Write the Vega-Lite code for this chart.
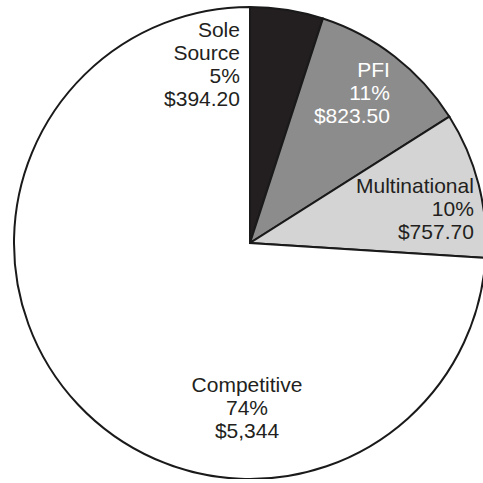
{
  "$schema": "https://vega.github.io/schema/vega-lite/v6.json",
  "width": 472,
  "height": 472,
  "autosize": {"type": "none"},
  "padding": {"left": 14, "top": 7, "right": 0, "bottom": 0},
  "background": "white",
  "view": {"stroke": null},
  "datasets": {
    "labels": [
      {"label": "Sole\nSource\n5%\n$394.20", "angle": 357.2, "r": 0.872, "align": "right", "tc": "dark"},
      {"label": "PFI\n11%\n$823.50", "angle": 40.1, "r": 0.92, "align": "right", "tc": "light"},
      {"label": "Multinational\n10%\n$757.70", "angle": 77.4, "r": 0.972, "align": "right", "tc": "dark"},
      {"label": "Competitive\n74%\n$5,344", "angle": 181.15, "r": 0.631, "align": "center", "tc": "dark"}
    ]
  },
  "layer": [
    {
      "data": {
        "values": [
          {"category": "Sole Source", "pct": 5, "amount": 394.2, "order": 1},
          {"category": "PFI", "pct": 11, "amount": 823.5, "order": 2},
          {"category": "Multinational", "pct": 10, "amount": 757.7, "order": 3},
          {"category": "Competitive", "pct": 74, "amount": 5344, "order": 4}
        ]
      },
      "mark": {"type": "arc", "stroke": "#1a1a1a", "strokeWidth": 2, "strokeJoin": "miter"},
      "encoding": {
        "theta": {"field": "pct", "type": "quantitative", "stack": true},
        "order": {"field": "order", "type": "quantitative"},
        "color": {
          "field": "category",
          "type": "nominal",
          "scale": {
            "domain": ["Sole Source", "PFI", "Multinational", "Competitive"],
            "range": ["#231f20", "#8c8c8c", "#d4d4d4", "#ffffff"]
          },
          "legend": null
        }
      }
    },
    {
      "data": {"name": "labels"},
      "transform": [{"filter": "datum.align === 'right'"}],
      "mark": {
        "type": "text",
        "lineBreak": "\n",
        "font": "Liberation Sans",
        "fontSize": 21,
        "lineHeight": 23,
        "baseline": "alphabetic",
        "align": "right"
      },
      "encoding": {
        "theta": {"field": "angle", "type": "quantitative", "scale": {"domain": [0, 360], "range": [0, 6.283185307]}},
        "radius": {"field": "r", "type": "quantitative", "scale": {"type": "linear", "domain": [0, 1], "zero": true}},
        "text": {"field": "label"},
        "color": {
          "field": "tc",
          "type": "nominal",
          "scale": {"domain": ["dark", "light"], "range": ["#231f20", "#ffffff"]},
          "legend": null
        }
      }
    },
    {
      "data": {"name": "labels"},
      "transform": [{"filter": "datum.align === 'center'"}],
      "mark": {
        "type": "text",
        "lineBreak": "\n",
        "font": "Liberation Sans",
        "fontSize": 21,
        "lineHeight": 23,
        "baseline": "alphabetic",
        "align": "center"
      },
      "encoding": {
        "theta": {"field": "angle", "type": "quantitative", "scale": {"domain": [0, 360], "range": [0, 6.283185307]}},
        "radius": {"field": "r", "type": "quantitative", "scale": {"type": "linear", "domain": [0, 1], "zero": true}},
        "text": {"field": "label"},
        "color": {
          "field": "tc",
          "type": "nominal",
          "scale": {"domain": ["dark", "light"], "range": ["#231f20", "#ffffff"]},
          "legend": null
        }
      }
    }
  ],
  "resolve": {"scale": {"theta": "independent", "radius": "independent", "color": "independent"}}
}
